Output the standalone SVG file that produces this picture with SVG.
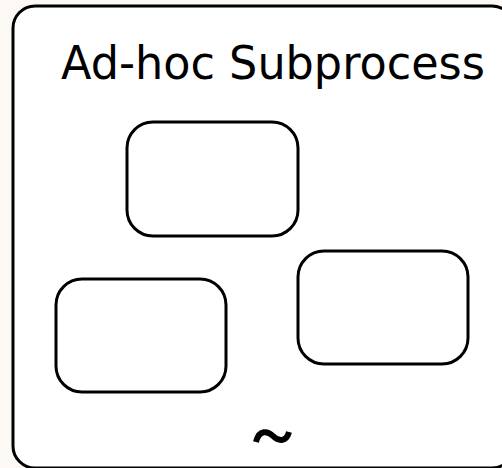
<svg xmlns="http://www.w3.org/2000/svg" width="502" height="468" viewBox="0 0 502 468">
  <style>
    .box { fill: #ffffff; stroke: #000000; stroke-width: 3; }
    .task { fill: #ffffff; stroke: #000000; stroke-width: 3; }
    .label { font-family: "DejaVu Sans", Verdana, sans-serif; font-size: 47px; fill: #000000; }
  </style>
  <rect x="0" y="0" width="502" height="468" fill="#fcf8f3"/>
  <g id="adhoc-subprocess">
    <rect class="box" x="13" y="6" width="501" height="462" rx="22" ry="22"/>
    <text class="label" x="61" y="79" textLength="424" lengthAdjust="spacingAndGlyphs">Ad-hoc Subprocess</text>
    <path id="adhoc-marker" d="M256,442 C259,429 268,431 273,436 C278,441 286,443 289,432" fill="none" stroke="#000000" stroke-width="6"/>
  </g>
  <g id="task1">
    <rect class="task" x="127" y="122" width="171" height="114" rx="26" ry="26"/>
  </g>
  <g id="task2">
    <rect class="task" x="56" y="279" width="170" height="113" rx="26" ry="26"/>
  </g>
  <g id="task3">
    <rect class="task" x="298" y="251" width="170" height="113" rx="26" ry="26"/>
  </g>
  <g id="connectors"></g>
</svg>
